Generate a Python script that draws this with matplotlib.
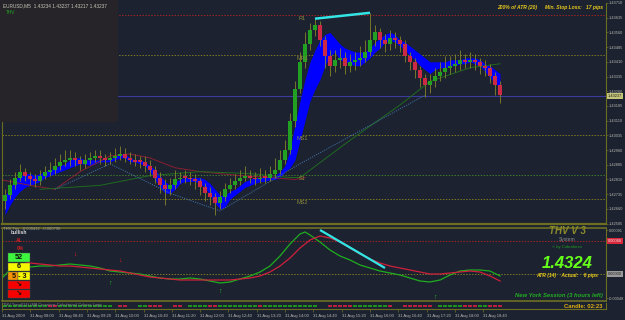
import numpy as np
import matplotlib.pyplot as plt
from matplotlib.patches import Rectangle

plt.rcParams['font.family'] = ['Liberation Sans', 'DejaVu Sans']

# EURUSD M5 candles
opens = [1.4270, 1.4273, 1.4278, 1.4282, 1.4285, 1.4283, 1.4281, 1.4280, 1.4283, 1.4285,
         1.4286, 1.4288, 1.4290, 1.4291, 1.4292, 1.4291, 1.4289, 1.4291, 1.4292, 1.4293,
         1.4292, 1.4291, 1.4292, 1.4293, 1.4294, 1.4292, 1.4291, 1.4291, 1.4290, 1.4288,
         1.4286, 1.4282, 1.4278, 1.4276, 1.4278, 1.4281, 1.4283, 1.4282, 1.4281, 1.4280,
         1.4277, 1.4274, 1.4272, 1.4269, 1.4272, 1.4276, 1.4278, 1.4280, 1.4282, 1.4283,
         1.4282, 1.4281, 1.4283, 1.4282, 1.4284, 1.4286, 1.4291, 1.4296, 1.4311, 1.4327,
         1.4341, 1.4350, 1.4357, 1.4360, 1.4352, 1.4344, 1.4339, 1.4342, 1.4343, 1.4339,
         1.4341, 1.4342, 1.4343, 1.4346, 1.4352, 1.4356, 1.4352, 1.4350, 1.4353, 1.4352,
         1.4350, 1.4344, 1.4341, 1.4337, 1.4333, 1.4329, 1.4331, 1.4334, 1.4336, 1.4338,
         1.4339, 1.4340, 1.4342, 1.4341, 1.4342, 1.4341, 1.4339, 1.4338, 1.4334, 1.4329]
highs = [1.4276, 1.4281, 1.4285, 1.4289, 1.4287, 1.4285, 1.4284, 1.4286, 1.4288, 1.4290,
         1.4292, 1.4294, 1.4296, 1.4296, 1.4295, 1.4293, 1.4294, 1.4295, 1.4296, 1.4296,
         1.4294, 1.4295, 1.4297, 1.4298, 1.4297, 1.4295, 1.4294, 1.4293, 1.4293, 1.4291,
         1.4288, 1.4285, 1.4281, 1.4282, 1.4286, 1.4285, 1.4286, 1.4285, 1.4284, 1.4282,
         1.4279, 1.4277, 1.4274, 1.4275, 1.4279, 1.4282, 1.4284, 1.4286, 1.4288, 1.4286,
         1.4285, 1.4287, 1.4286, 1.4288, 1.4292, 1.4296, 1.4301, 1.4315, 1.4331, 1.4346,
         1.4356, 1.4361, 1.4363, 1.4362, 1.4354, 1.4347, 1.4347, 1.4348, 1.4346, 1.4345,
         1.4346, 1.4349, 1.4352, 1.4366, 1.4360, 1.4358, 1.4355, 1.4357, 1.4356, 1.4354,
         1.4352, 1.4346, 1.4343, 1.4339, 1.4335, 1.4335, 1.4338, 1.4341, 1.4344, 1.4344,
         1.4345, 1.4347, 1.4345, 1.4346, 1.4345, 1.4343, 1.4342, 1.4340, 1.4336, 1.4331]
lows = [1.4266, 1.4271, 1.4276, 1.4280, 1.4280, 1.4278, 1.4277, 1.4278, 1.4281, 1.4283,
        1.4284, 1.4286, 1.4288, 1.4288, 1.4288, 1.4286, 1.4287, 1.4289, 1.4290, 1.4289,
        1.4288, 1.4289, 1.4290, 1.4291, 1.4290, 1.4289, 1.4288, 1.4287, 1.4285, 1.4283,
        1.4279, 1.4274, 1.4268, 1.4273, 1.4276, 1.4279, 1.4279, 1.4278, 1.4276, 1.4273,
        1.4270, 1.4268, 1.4263, 1.4266, 1.4270, 1.4274, 1.4276, 1.4278, 1.4280, 1.4279,
        1.4278, 1.4279, 1.4279, 1.4280, 1.4282, 1.4284, 1.4289, 1.4294, 1.4308, 1.4325,
        1.4338, 1.4347, 1.4354, 1.4349, 1.4338, 1.4334, 1.4336, 1.4338, 1.4335, 1.4336,
        1.4337, 1.4339, 1.4341, 1.4344, 1.4349, 1.4348, 1.4346, 1.4347, 1.4348, 1.4346,
        1.4341, 1.4337, 1.4333, 1.4328, 1.4323, 1.4325, 1.4328, 1.4331, 1.4333, 1.4335,
        1.4336, 1.4337, 1.4338, 1.4338, 1.4337, 1.4335, 1.4334, 1.4330, 1.4324, 1.4320]
closes = [1.4273, 1.4278, 1.4282, 1.4285, 1.4283, 1.4281, 1.4280, 1.4283, 1.4285, 1.4286,
          1.4288, 1.4290, 1.4291, 1.4292, 1.4291, 1.4289, 1.4291, 1.4292, 1.4293, 1.4292,
          1.4291, 1.4292, 1.4293, 1.4294, 1.4292, 1.4291, 1.4290, 1.4290, 1.4288, 1.4286,
          1.4282, 1.4278, 1.4276, 1.4278, 1.4281, 1.4282, 1.4282, 1.4281, 1.4280, 1.4277,
          1.4274, 1.4272, 1.4269, 1.4272, 1.4276, 1.4278, 1.4280, 1.4282, 1.4283, 1.4282,
          1.4281, 1.4282, 1.4282, 1.4284, 1.4286, 1.4291, 1.4296, 1.4311, 1.4327, 1.4341,
          1.4350, 1.4357, 1.4360, 1.4352, 1.4344, 1.4339, 1.4342, 1.4343, 1.4339, 1.4341,
          1.4342, 1.4343, 1.4346, 1.4352, 1.4356, 1.4352, 1.4350, 1.4353, 1.4352, 1.4350,
          1.4344, 1.4341, 1.4337, 1.4333, 1.4329, 1.4331, 1.4334, 1.4336, 1.4338, 1.4339,
          1.4340, 1.4342, 1.4341, 1.4342, 1.4341, 1.4339, 1.4338, 1.4334, 1.4329, 1.4324]

# blue cloud (two edges)
band_top = [1.4273, 1.4276, 1.4281, 1.4283, 1.4284, 1.4284, 1.4283, 1.4284, 1.4285, 1.4286,
            1.4287, 1.4288, 1.4289, 1.4291, 1.4292, 1.4292, 1.4291, 1.4291, 1.4291, 1.4291,
            1.4291, 1.4291, 1.4293, 1.4294, 1.4294, 1.4292, 1.4291, 1.4291, 1.4290, 1.4288,
            1.4286, 1.4283, 1.4280, 1.4278, 1.4280, 1.4281, 1.4282, 1.4282, 1.4282, 1.4282,
            1.4281, 1.4279, 1.4276, 1.4273, 1.4273, 1.4275, 1.4276, 1.4278, 1.4280, 1.4281,
            1.4282, 1.4282, 1.4282, 1.4282, 1.4283, 1.4285, 1.4288, 1.4296, 1.4309, 1.4321,
            1.4332, 1.4341, 1.4347, 1.4352, 1.4355, 1.4356, 1.4353, 1.4350, 1.4348, 1.4347,
            1.4346, 1.4346, 1.4346, 1.4348, 1.4351, 1.4353, 1.4355, 1.4356, 1.4355, 1.4352,
            1.4351, 1.4349, 1.4347, 1.4345, 1.4343, 1.4341, 1.4341, 1.4341, 1.4341, 1.4342,
            1.4342, 1.4342, 1.4343, 1.4343, 1.4343, 1.4342, 1.4340, 1.4339, 1.4337, 1.4335]
band_bot = [1.4263, 1.4268, 1.4272, 1.4275, 1.4277, 1.4278, 1.4279, 1.4280, 1.4282, 1.4283,
            1.4284, 1.4285, 1.4286, 1.4287, 1.4288, 1.4289, 1.4289, 1.4288, 1.4289, 1.4290,
            1.4290, 1.4290, 1.4291, 1.4292, 1.4292, 1.4290, 1.4290, 1.4289, 1.4288, 1.4285,
            1.4281, 1.4277, 1.4274, 1.4274, 1.4276, 1.4279, 1.4280, 1.4280, 1.4280, 1.4279,
            1.4277, 1.4273, 1.4269, 1.4266, 1.4267, 1.4271, 1.4273, 1.4275, 1.4277, 1.4278,
            1.4279, 1.4280, 1.4280, 1.4281, 1.4281, 1.4282, 1.4285, 1.4287, 1.4291, 1.4301,
            1.4311, 1.4321, 1.4327, 1.4332, 1.4339, 1.4344, 1.4346, 1.4342, 1.4341, 1.4340,
            1.4339, 1.4339, 1.4341, 1.4343, 1.4346, 1.4348, 1.4351, 1.4352, 1.4351, 1.4349,
            1.4347, 1.4344, 1.4342, 1.4339, 1.4337, 1.4335, 1.4337, 1.4338, 1.4338, 1.4339,
            1.4339, 1.4340, 1.4340, 1.4341, 1.4340, 1.4339, 1.4336, 1.4333, 1.4330, 1.4328]

# slow moving averages and zigzag (bar index, price)
red_ma_x = [-1, 5, 10, 15, 21, 25, 29, 34, 39, 47, 53, 58, 60]
red_ma_y = [1.4281, 1.4278, 1.4276, 1.4285, 1.4293, 1.4294, 1.4292, 1.4287, 1.4285, 1.4283, 1.4282, 1.4281, 1.4282]
green_ma_x = [7, 19, 29, 39, 49, 57, 59, 69, 79, 85, 93, 99]
green_ma_y = [1.4276, 1.4278, 1.4283, 1.4285, 1.4284, 1.4282, 1.4282, 1.4301, 1.4319, 1.4331, 1.4338, 1.4340]
zigzag_x = [10, 21, 33, 43, 59, 84]
zigzag_y = [1.4276, 1.4289, 1.4274, 1.4265, 1.4289, 1.4324]
trend_x = [62, 73]
trend_y = [1.4363, 1.4366]

pivot_names = ['R1', 'MR1', 'MS1', 'S1', 'MS2']
pivot_levels = [1.43649, 1.43444, 1.43036, 1.42833, 1.42710]
pivot_colors = ['#a02424', '#7a7a22', '#7a7a22', '#3f7a2a', '#7a7a22']
bid = 1.43237
price_ticks = [1.43710, 1.43635, 1.43560, 1.43485, 1.43410, 1.43335, 1.43260, 1.43185,
               1.43110, 1.43035, 1.42960, 1.42885, 1.42810, 1.42735, 1.42660, 1.42585]

# oscillator sub-window (values in 1e-4)
osc_green_x = [-1, 1, 3, 5, 7, 9, 11, 13, 15, 17, 19, 21, 23, 25, 27, 29, 31, 33, 35, 37, 39, 41,
               43, 45, 47, 49, 51, 53, 55, 57, 59, 60, 61, 63, 65, 67, 69, 71, 73, 75, 77, 79,
               81, 83, 85, 87, 89, 91, 93, 95, 97, 99]
osc_green = [-1.2, 0.8, 1.2, 1.4, 1.6, 1.6, 1.8, 2.0, 1.8, 1.6, 1.2, 0.6, 0.4, 0.2, 0.0, -0.4,
             -0.8, -1.0, -1.0, -0.8, -1.0, -1.4, -1.8, -1.6, -1.0, -0.4, 0.4, 1.6, 3.6, 6.0,
             8.0, 8.4, 7.8, 6.4, 4.8, 3.6, 2.8, 1.8, 1.2, 0.6, 0.2, -0.2, -0.8, -1.4, -1.6,
             -1.2, -0.2, 0.6, 0.8, 0.8, 0.6, -0.4]
osc_red_x = [1, 3, 5, 7, 9, 11, 13, 15, 17, 19, 21, 23, 25, 27, 29, 31, 33, 35, 37, 39, 41, 43,
             45, 47, 49, 51, 53, 55, 57, 59, 61, 63, 65, 67, 69, 71, 73, 75, 77, 79, 81, 83,
             85, 87, 89, 91, 93, 95, 97, 99]
osc_red = [3.2, 2.8, 2.2, 2.0, 1.8, 1.6, 1.6, 1.4, 1.2, 1.0, 0.8, 0.6, 0.2, -0.2, -0.6, -0.8,
           -1.0, -1.2, -1.2, -1.2, -1.2, -1.2, -1.2, -1.0, -0.8, -0.4, 0.4, 1.6, 3.2, 5.2,
           6.8, 7.6, 7.2, 6.4, 5.2, 4.0, 3.0, 2.2, 1.6, 1.2, 0.8, 0.4, 0.0, 0.0, 0.2, 0.4,
           0.6, 0.4, -0.4, -1.4]
osc_div_x = [63, 76]
osc_div_y = [8.8, 1.2]
sig_up_x = [21, 43, 86]
sig_up_y = [-1.8, -3.4, -4.6]
sig_dn_x = [14, 23]
sig_dn_y = [4.0, 2.8]

# trend bar strip: g = up, r = down, blank = none
trend_bars = ("gggggggggrrggggggggggg rr  ggrrr  rr ggggrrggggggggrggggggggggg  rrrrrgggggggr  rrrrrr gggggrrrggrrr")

time_labels = ['31 Aug 2009', '31 Aug 08:00', '31 Aug 08:40', '31 Aug 09:20', '31 Aug 10:00',
               '31 Aug 10:40', '31 Aug 11:20', '31 Aug 12:00', '31 Aug 12:40', '31 Aug 13:20',
               '31 Aug 14:00', '31 Aug 14:40', '31 Aug 15:20', '31 Aug 16:00', '31 Aug 16:40',
               '31 Aug 17:20', '31 Aug 18:00', '31 Aug 18:40']

W, H = 625, 320
BG = '#1c2230'
OLIVE = '#6e6e22'
TXT = '#b8b8b0'
BULL = '#22a022'
BEAR = '#cc2a44'
WICK = '#85852a'


def fx(x):
    return x / W


def fy(y):
    return 1 - y / H


fig = plt.figure(figsize=(6.25, 3.2), dpi=100, facecolor=BG)
ax = fig.add_axes([fx(2), fy(224), 604 / W, 221 / H], facecolor=BG)
axo = fig.add_axes([fx(2), fy(301), 604 / W, 73 / H], facecolor=BG)
axs = fig.add_axes([fx(2), fy(309), 604 / W, 6 / H], facecolor=BG)

for a in (ax, axo, axs):
    a.set_xlim(-0.6, 120.2)
    for s in a.spines.values():
        s.set_color(OLIVE)
        s.set_linewidth(0.8)
    a.spines['top'].set_visible(False)
    a.tick_params(colors=OLIVE, labelcolor=TXT, labelsize=2.8, length=1.5, width=0.5, pad=0.5)
    a.yaxis.tick_right()
ax.spines['bottom'].set_linewidth(1.6)
axo.spines['top'].set_visible(True)
axo.spines['top'].set_linewidth(1.2)
axo.spines['bottom'].set_linewidth(1.2)

# ---------------- main price window ----------------
idx = np.arange(len(closes))
o, h, l, c = (np.array(v) for v in (opens, highs, lows, closes))
ax.set_ylim(1.42583, 1.43710)

for name, lvl, col in zip(pivot_names, pivot_levels, pivot_colors):
    ax.axhline(lvl, color=col, lw=0.7, ls=(0, (1.5, 1.5)), zorder=1)
    ax.text(59.5, lvl - 0.00004, name, color='#8a8a3a', fontsize=4, va='top', ha='center', zorder=6)
ax.axhline(bid, color='#3c3c9c', lw=0.8, zorder=1)

ax.fill_between(idx, band_bot, band_top, color='#0000ff', lw=0, zorder=2)
ax.plot(red_ma_x, red_ma_y, color='#8a2030', lw=0.7, zorder=2)
ax.plot(green_ma_x, green_ma_y, color='#1f6a1f', lw=0.7, zorder=2)
ax.plot(zigzag_x, zigzag_y, color='#3f6ea0', lw=0.7, ls=(0, (1.2, 1.2)), zorder=2)

ax.vlines(idx, l, h, color=WICK, lw=0.6, zorder=3)
up = c >= o
body_lo = np.minimum(o, c)
body_h = np.maximum(np.abs(c - o), 0.00003)
ax.bar(idx[up], body_h[up], bottom=body_lo[up], width=0.62, color=BULL, lw=0, zorder=4)
ax.bar(idx[~up], body_h[~up], bottom=body_lo[~up], width=0.62, color=BEAR, lw=0, zorder=4)
ax.plot(trend_x, trend_y, color='#33e6e6', lw=1.8, solid_capstyle='butt', zorder=5)

ax.set_yticks(price_ticks)
ax.set_yticklabels([f'{p:.5f}' for p in price_ticks])
ax.set_xticks([])
ax.annotate(f'{bid:.5f}', xy=(1, bid), xycoords=ax.get_yaxis_transform(), xytext=(1.2, 0),
            textcoords='offset points', fontsize=2.8, color='#1a1a1a', va='center', ha='left',
            bbox=dict(boxstyle='square,pad=0.25', fc='#c4c47a', ec='none'), annotation_clip=False)

# ---------------- oscillator window ----------------
scale = 1e-4
axo.set_ylim(-0.00054, 0.00092)
axo.axhline(0.00066, color='#a02424', lw=0.7, ls=(0, (1.5, 1.5)))
axo.axhline(0.0, color='#7a7a22', lw=0.7, ls=(0, (1.5, 1.5)))
axo.plot(osc_green_x, np.array(osc_green) * scale, color='#1fae1f', lw=0.9)
axo.plot(osc_red_x, np.array(osc_red) * scale, color='#d0203c', lw=0.9)
axo.plot(osc_div_x, np.array(osc_div_y) * scale, color='#33e6e6', lw=1.6, solid_capstyle='butt')
for x, y in zip(sig_up_x, sig_up_y):
    axo.text(x, y * scale, '↑', color='#22cc22', fontsize=5, ha='center', va='center', fontweight='bold')
for x, y in zip(sig_dn_x, sig_dn_y):
    axo.text(x, y * scale, '↓', color='#dd2020', fontsize=5, ha='center', va='center', fontweight='bold')
axo.set_xticks([])
axo.set_yticks([0.00088, -0.00048])
axo.set_yticklabels(['0.00091', '-0.00048'])
for val, fc, tc in [(0.00066, '#d8283c', '#f0f0f0'), (0.0, '#9a9a9a', '#1a1a1a')]:
    axo.annotate(f'{val:.5f}', xy=(1, val), xycoords=axo.get_yaxis_transform(), xytext=(1.2, 0),
                 textcoords='offset points', fontsize=2.8, color=tc, va='center', ha='left',
                 bbox=dict(boxstyle='square,pad=0.25', fc=fc, ec='none'), annotation_clip=False)

# ---------------- trend strip + time axis ----------------
axs.set_ylim(0, 1)
axs.set_yticks([])
for i, s in enumerate(trend_bars):
    if s == 'g':
        axs.hlines(0.5, i - 0.45, i + 0.45, color='#1e9e1e', lw=1.3)
    elif s == 'r':
        axs.hlines(0.5, i - 0.45, i + 0.45, color='#cc2040', lw=1.3)
tick_pos = -0.6 + 5.66 * np.arange(len(time_labels))
axs.set_xticks(tick_pos)
axs.set_xticklabels(time_labels, ha='left', fontsize=3.0)
axs.tick_params(axis='x', length=2.5, pad=0.8)

# ---------------- overlay panels and texts ----------------
fig.add_artist(Rectangle((0, fy(122)), fx(118), 122 / H, transform=fig.transFigure,
                         fc='#262428', ec='none', zorder=1))
fig.text(fx(3), fy(6), 'EURUSD,M5  1.43234 1.43237 1.43217 1.43237', color='#c8c8b8',
         fontsize=3.4, va='center', zorder=3)
fig.text(fx(6), fy(13), 'THV', color='#1faa1f', fontsize=3.4, va='center', zorder=3)

gold = dict(color='#e6c81e', fontsize=3.6, fontweight='bold', fontstyle='italic', va='center', zorder=3)
fig.text(fx(497), fy(7), '200% of ATR (20)', **gold)
fig.text(fx(545), fy(7), 'Min. Stop Loss:', **gold)
fig.text(fx(603), fy(7), '17 pips', ha='right', **gold)

fig.text(fx(3), fy(229), 'THV Trix  -0.000412  -0.000796', color='#a0a0a0', fontsize=3.0, va='center', zorder=3)
fig.text(fx(19), fy(233), 'bullish', color='#d8d8d8', fontsize=3.6, fontweight='bold', ha='center', va='center', zorder=3)
fig.text(fx(19), fy(240), 'AL', color='#cc2020', fontsize=3.6, fontweight='bold', ha='center', va='center', zorder=3)
fig.text(fx(20), fy(248), '0%', color='#cc2020', fontsize=3.6, fontweight='bold', ha='center', va='center', zorder=3)


def box(x0, y0, x1, y1, color):
    fig.add_artist(Rectangle((fx(x0), fy(y1)), (x1 - x0) / W, (y1 - y0) / H, transform=fig.transFigure,
                             fc=color, ec='#505050', lw=0.3, zorder=2))


box(8, 253, 30, 262, '#3cf53c')
box(8, 263, 30, 271, '#f7f700')
box(8, 272, 18, 280, '#f79400')
box(18, 272, 30, 280, '#f7f700')
box(8, 281, 30, 289, '#f70000')
box(8, 290, 30, 298, '#f70000')
for txt, yc in [('52', 257.5), ('6', 267), ('5 - 3', 276), ('↘', 285), ('↘', 294)]:
    fig.text(fx(19), fy(yc), txt, color='#101010', fontsize=5.2, fontweight='bold',
             ha='center', va='center', zorder=3)

fig.text(fx(567), fy(231), 'THV V 3', color='#8c8c2a', fontsize=7, fontweight='bold',
         fontstyle='italic', ha='center', va='center', zorder=3)
fig.text(fx(567), fy(240), 'System', color='#8a8a8a', fontsize=3.6, ha='center', va='center', zorder=3)
fig.text(fx(567), fy(247), '© by Cobraforex', color='#1f9f1f', fontsize=3.0, ha='center', va='center', zorder=3)
fig.text(fx(567), fy(264), '1.4324', color='#66ff1a', fontsize=12, fontweight='bold',
         fontstyle='italic', ha='center', va='center', zorder=3)
fig.text(fx(567), fy(276), 'ATR (14)    Actual:    6 pips', color='#e6c81e', fontsize=3.6,
         fontweight='bold', fontstyle='italic', ha='center', va='center', zorder=3)
fig.text(fx(603), fy(295), 'New York Session (3 hours left)', color='#22b022', fontsize=4.2,
         fontweight='bold', fontstyle='italic', ha='right', va='center', zorder=3)
fig.text(fx(602), fy(306), 'Candle: 02:23', color='#e0b010', fontsize=4.2, fontweight='bold',
         ha='right', va='center', zorder=3)
fig.text(fx(3), fy(305), 'THV Trend(14) (MA Crossings Calculation) Colours Logic', color='#8a8a8a',
         fontsize=2.8, va='center', zorder=3)

fig.savefig('out.png', dpi=100, facecolor=BG)
plt.close(fig)
